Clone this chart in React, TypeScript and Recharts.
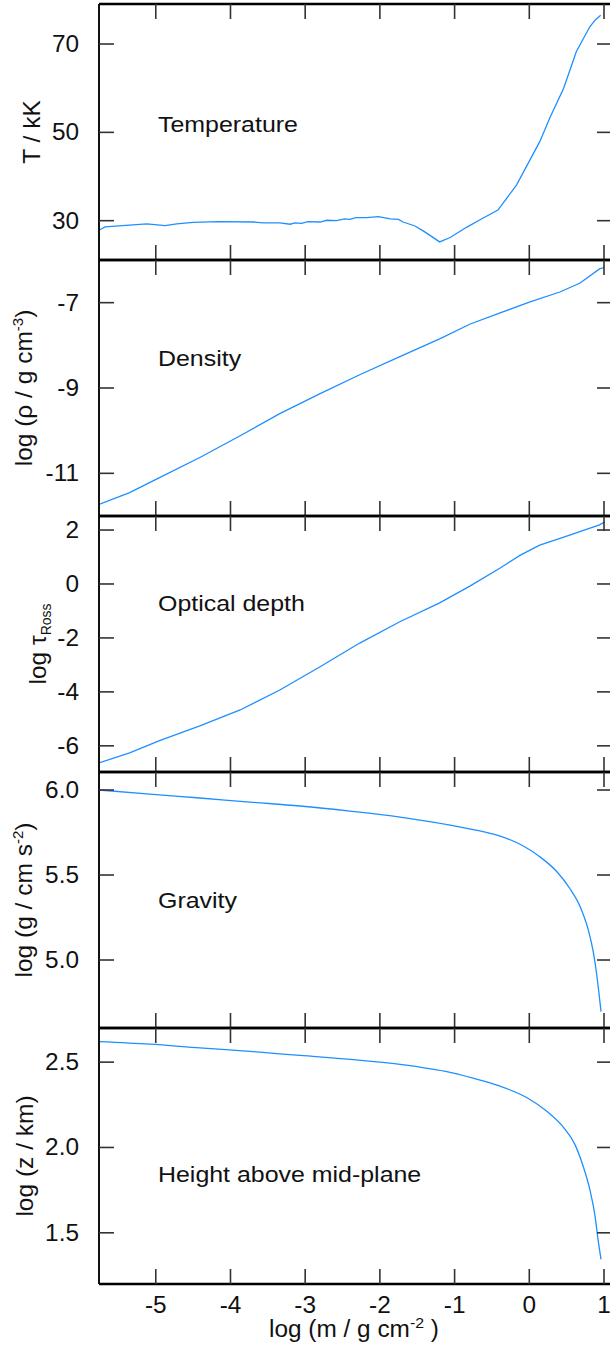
import React from 'react';
import { LineChart, Line, XAxis, YAxis } from 'recharts';

// ---------- shared x axis ----------
const X_DOMAIN: [number, number] = [-5.76, 1.107];
const X_TICKS = [-5, -4, -3, -2, -1, 0, 1];

// ---------- Temperature (kK) ----------
const tempX = [-5.755, -5.68, -5.12, -4.875, -4.72, -4.5, -4.16, -3.69, -3.56, -3.34, -3.2, -3.14, -3.05, -2.96, -2.8, -2.71, -2.58, -2.47, -2.4, -2.32, -2.18, -2.02, -1.86, -1.75, -1.69, -1.53, -1.42, -1.2, -1.06, -0.84, -0.66, -0.42, -0.17, 0.14, 0.28, 0.46, 0.63, 0.81, 0.88, 0.955];
const tempY = [27.9, 28.6, 29.3, 28.9, 29.3, 29.6, 29.8, 29.7, 29.5, 29.5, 29.2, 29.5, 29.4, 29.8, 29.7, 30.1, 30.0, 30.4, 30.3, 30.7, 30.7, 30.9, 30.4, 30.3, 29.7, 28.8, 27.7, 25.2, 26.2, 28.5, 30.2, 32.4, 38.1, 47.9, 53.5, 60.0, 68.3, 73.9, 75.4, 76.5];
const tempTicks = [30, 50, 70];

// ---------- Density log rho ----------
const densX = [-5.76, -5.35, -4.95, -4.41, -3.87, -3.34, -2.8, -2.27, -1.74, -1.2, -0.79, -0.39, 0.01, 0.41, 0.68, 0.94, 1.01];
const densY = [-11.73, -11.45, -11.1, -10.63, -10.12, -9.6, -9.13, -8.69, -8.27, -7.85, -7.5, -7.24, -6.98, -6.75, -6.54, -6.21, -6.17];
const densTicks = [-11, -9, -7];

// ---------- Optical depth log tau ----------
const tauX = [-5.76, -5.35, -4.95, -4.41, -3.87, -3.34, -2.8, -2.27, -1.74, -1.2, -0.79, -0.39, -0.12, 0.14, 0.54, 0.94, 1.01];
const tauY = [-6.63, -6.26, -5.81, -5.26, -4.67, -3.93, -3.07, -2.19, -1.41, -0.7, -0.07, 0.59, 1.07, 1.44, 1.81, 2.19, 2.3];
const tauTicks = [-6, -4, -2, 0, 2];

// ---------- Gravity log g ----------
const gravX = [-5.76, -5.08, -4.41, -3.74, -3.07, -2.4, -1.73, -1.06, -0.66, -0.39, -0.08, 0.14, 0.37, 0.54, 0.68, 0.79, 0.86, 0.9, 0.96];
const gravY = [6.0, 5.976, 5.953, 5.929, 5.906, 5.876, 5.841, 5.794, 5.759, 5.729, 5.671, 5.608, 5.519, 5.422, 5.314, 5.176, 5.039, 4.922, 4.696];
const gravTicks = [5.0, 5.5, 6.0];

// ---------- Height log z ----------
const hgtX = [-5.76, -5.08, -4.41, -3.74, -3.07, -2.4, -1.73, -1.06, -0.66, -0.39, -0.03, 0.23, 0.46, 0.61, 0.72, 0.81, 0.88, 0.92, 0.96];
const hgtY = [2.62, 2.605, 2.583, 2.563, 2.539, 2.516, 2.487, 2.44, 2.395, 2.359, 2.291, 2.213, 2.116, 2.018, 1.891, 1.754, 1.598, 1.461, 1.344];
const hgtTicks = [1.5, 2.0, 2.5];

const panelNames = ['Temperature', 'Density', 'Optical depth', 'Gravity', 'Height above mid-plane'];

// ---------- styling ----------
const FONT = "'Liberation Sans', Arial, Helvetica, sans-serif";
const INK = '#111';
const LINE_COLOR = '#1e8fff';
const TICK_COLOR = '#333';
const TICK_LEN = 15;
const TICK_FS = 23;
const TICK_SX = 1.06;
const NAME_FS = 21.5;
const NAME_SX = 1.16;
const TITLE_FS = 24.5;
const PANEL_H = 256;
const PLOT_TOP = 4; // plot top inside each chart
const CHART_W = 613;

type STextProps = {
  x: number;
  y: number;
  size: number;
  anchor?: 'start' | 'middle' | 'end';
  sx?: number;
  rotate?: boolean;
  children: React.ReactNode;
};

function SText({ x, y, size, anchor = 'middle', sx = 1, rotate = false, children }: STextProps) {
  const tr = rotate
    ? `translate(${x},${y}) rotate(-90) scale(${sx},1)`
    : `translate(${x},${y}) scale(${sx},1)`;
  return (
    <g transform={tr}>
      <text x={0} y={0} textAnchor={anchor} fontFamily={FONT} fontSize={size} fill={INK}>
        {children}
      </text>
    </g>
  );
}

function NoLabel() {
  return <g />;
}

function BottomLabel(props: any) {
  const { payload, x, show } = props;
  if (!show) return <g />;
  const cx = payload && typeof payload.coordinate === 'number' ? payload.coordinate : x;
  return (
    <SText x={cx} y={PLOT_TOP + PANEL_H + 29} size={TICK_FS} sx={TICK_SX}>
      {String(payload.value)}
    </SText>
  );
}

function LeftLabel(props: any) {
  const { payload, y, dec } = props;
  const cy = payload && typeof payload.coordinate === 'number' ? payload.coordinate : y;
  const v = Number(payload.value);
  const txt = dec ? v.toFixed(dec) : String(v);
  return (
    <SText x={79} y={cy + 8} size={TICK_FS} sx={TICK_SX} anchor="end">
      {txt}
    </SText>
  );
}

function TitleText({ i }: { i: number }) {
  const sup = (s: string) => (
    <>
      <tspan fontSize={15} dy={-9}>{s}</tspan>
      <tspan dy={9}>)</tspan>
    </>
  );
  if (i === 0) return <>T / kK</>;
  if (i === 1) return <>log (ρ / g cm{sup('-3')}</>;
  if (i === 2)
    return (
      <>
        log τ<tspan fontSize={14} dy={5}>Ross</tspan>
      </>
    );
  if (i === 3) return <>log (g / cm s{sup('-2')}</>;
  return <>log (z / km)</>;
}

const TITLE_BASE_X = [40, 32, 46, 32, 33];
const NAME_BASELINE = [128, 106, 95, 136, 154];
const NAME_X = 158;

function PanelText(props: any) {
  const { i } = props;
  return (
    <g>
      <SText x={TITLE_BASE_X[i]} y={PLOT_TOP + PANEL_H / 2} size={TITLE_FS} rotate>
        <TitleText i={i} />
      </SText>
      <SText x={NAME_X} y={PLOT_TOP + NAME_BASELINE[i]} size={NAME_FS} sx={NAME_SX} anchor="start">
        {panelNames[i]}
      </SText>
    </g>
  );
}

type PanelDef = {
  xs: number[];
  ys: number[];
  domain: [number, number];
  ticks: number[];
  dec: number;
  curve: 'linear' | 'monotone';
};

const PANELS: PanelDef[] = [
  { xs: tempX, ys: tempY, domain: [21.1, 79.06], ticks: tempTicks, dec: 0, curve: 'linear' },
  { xs: densX, ys: densY, domain: [-12, -6], ticks: densTicks, dec: 0, curve: 'linear' },
  { xs: tauX, ys: tauY, domain: [-6.97, 2.52], ticks: tauTicks, dec: 0, curve: 'linear' },
  { xs: gravX, ys: gravY, domain: [4.6, 6.106], ticks: gravTicks, dec: 1, curve: 'monotone' },
  { xs: hgtX, ys: hgtY, domain: [1.2, 2.7], ticks: hgtTicks, dec: 1, curve: 'monotone' },
];

function Panel({ i }: { i: number }) {
  const p = PANELS[i];
  const last = i === PANELS.length - 1;
  const data = p.xs.map((x, k) => ({ x, y: p.ys[k] }));
  const top = i * PANEL_H;
  const border = { stroke: '#000', strokeWidth: 2.6 };
  const tickLine = { stroke: TICK_COLOR, strokeWidth: 1.6 };
  return (
    <div style={{ position: 'absolute', left: 0, top }}>
      <LineChart
        width={CHART_W}
        height={last ? PANEL_H + 4 + 70 : PANEL_H + 8}
        data={data}
        margin={{ top: 3, right: 0, bottom: last ? 0 : 3, left: 0 }}
      >
        <XAxis
          xAxisId="b"
          type="number"
          dataKey="x"
          domain={X_DOMAIN}
          ticks={X_TICKS}
          interval={0}
          orientation="bottom"
          height={last ? 70 : 1}
          tickSize={-TICK_LEN}
          tickMargin={0}
          tickLine={tickLine}
          axisLine={border}
          tick={<BottomLabel show={last} />}
          allowDataOverflow
          label={
            last ? (
              <g>
                <SText x={354} y={PLOT_TOP + PANEL_H + 53} size={TICK_FS} sx={TICK_SX}>
                  log (m / g cm<tspan fontSize={15} dy={-9}>-2</tspan>
                  <tspan dy={9}> )</tspan>
                </SText>
              </g>
            ) : undefined
          }
        />
        <XAxis
          xAxisId="t"
          type="number"
          dataKey="x"
          domain={X_DOMAIN}
          ticks={X_TICKS}
          interval={0}
          orientation="top"
          height={1}
          tickSize={-TICK_LEN}
          tickMargin={0}
          tickLine={tickLine}
          axisLine={border}
          tick={<NoLabel />}
          allowDataOverflow
        />
        <YAxis
          yAxisId="l"
          type="number"
          domain={p.domain}
          ticks={p.ticks}
          interval={0}
          width={99}
          tickSize={-TICK_LEN}
          tickMargin={0}
          tickLine={tickLine}
          axisLine={{ stroke: '#111', strokeWidth: 2 }}
          tick={<LeftLabel dec={p.dec} />}
          label={<PanelText i={i} />}
          allowDataOverflow
        />
        <YAxis
          yAxisId="r"
          orientation="right"
          type="number"
          domain={p.domain}
          ticks={p.ticks}
          interval={0}
          width={1}
          tickSize={-TICK_LEN}
          tickMargin={0}
          tickLine={tickLine}
          axisLine={false}
          tick={<NoLabel />}
          allowDataOverflow
        />
        <Line
          xAxisId="t"
          yAxisId="r"
          dataKey="y"
          type="linear"
          stroke="none"
          dot={false}
          activeDot={false}
          legendType="none"
          isAnimationActive={false}
        />
        <Line
          xAxisId="b"
          yAxisId="l"
          dataKey="y"
          type={p.curve}
          stroke={LINE_COLOR}
          strokeWidth={1.3}
          dot={false}
          isAnimationActive={false}
        />
      </LineChart>
    </div>
  );
}

export default function App() {
  return (
    <div
      style={{
        position: 'absolute',
        left: 0,
        top: 0,
        width: 610,
        height: 1355,
        overflow: 'hidden',
        background: '#fff',
      }}
    >
      {PANELS.map((_, i) => (
        <Panel key={i} i={i} />
      ))}
    </div>
  );
}
